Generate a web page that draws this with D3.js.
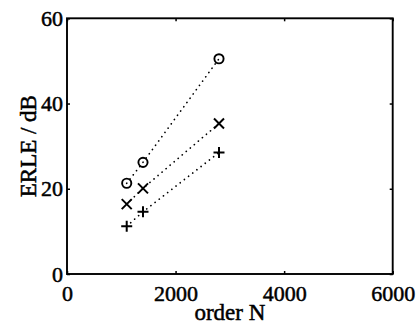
<!DOCTYPE html>
<html><head><meta charset="utf-8">
<script src="https://cdn.jsdelivr.net/npm/d3@7"></script>
<style>
html,body{margin:0;padding:0;background:#fff;}
text{font-family:"Liberation Serif","Times New Roman",serif;fill:#000;}
</style></head>
<body>
<svg id="chart" width="419" height="326"></svg>
<script>
const orderN = [1100, 1400, 2800];
const circleSeries = [21.3, 26.2, 50.5];
const crossSeries = [16.4, 20.1, 35.3];
const plusSeries = [11.2, 14.6, 28.5];
const xTicks = [0, 2000, 4000, 6000];
const yTicks = [0, 20, 40, 60];

const svg = d3.select("#chart");
const L = 67, R = 392.7, T = 18.3, B = 274;
const x = d3.scaleLinear().domain([0, 6000]).range([L, R]);
const y = d3.scaleLinear().domain([0, 60]).range([B, T]);

const series = [
  {name: "o", values: circleSeries},
  {name: "x", values: crossSeries},
  {name: "+", values: plusSeries}
];

const line = d3.line().x(d => x(d[0])).y(d => y(d[1]));
series.forEach(s => {
  const pts = orderN.map((n, i) => [n, s.values[i]]);
  svg.append("path").attr("d", line(pts))
    .attr("fill", "none").attr("stroke", "#000")
    .attr("stroke-width", 1.7).attr("stroke-linecap", "round")
    .attr("stroke-dasharray", "0.1 5.2");
});

series.forEach(s => {
  orderN.forEach((n, i) => {
    const cx = x(n), cy = y(s.values[i]);
    const g = svg.append("g").attr("transform", `translate(${cx},${cy})`);
    if (s.name === "o") {
      g.append("circle").attr("r", 4.6).attr("fill", "none").attr("stroke", "#000").attr("stroke-width", 1.9);
    } else if (s.name === "x") {
      g.append("path").attr("d", "M-5,-5L5,5M-5,5L5,-5").attr("stroke", "#000").attr("stroke-width", 2);
    } else {
      g.append("path").attr("d", "M-5.5,0L5.5,0M0,-5.5L0,5.5").attr("stroke", "#000").attr("stroke-width", 2);
    }
  });
});

svg.append("rect").attr("x", L).attr("y", T).attr("width", R - L).attr("height", B - T)
  .attr("fill", "none").attr("stroke", "#000").attr("stroke-width", 1.9);

const xAxis = d3.axisBottom(x).tickValues(xTicks).tickSize(-3).tickPadding(11).tickFormat(d3.format("d"));
const gx = svg.append("g").attr("transform", `translate(0,${B})`).call(xAxis);
const xTop = d3.axisTop(x).tickValues(xTicks).tickSize(-3).tickFormat("");
const gxt = svg.append("g").attr("transform", `translate(0,${T})`).call(xTop);
const yAxis = d3.axisLeft(y).tickValues(yTicks).tickSize(-3).tickPadding(4).tickFormat(d3.format("d"));
const gy = svg.append("g").attr("transform", `translate(${L},0)`).call(yAxis);
const yRight = d3.axisRight(y).tickValues(yTicks).tickSize(-3).tickFormat("");
const gyr = svg.append("g").attr("transform", `translate(${R},0)`).call(yRight);

[gx, gxt, gy, gyr].forEach(g => {
  g.select(".domain").remove();
  g.selectAll(".tick line").attr("stroke", "#000").attr("stroke-width", 1.5);
  g.selectAll("text").attr("font-size", 22).attr("font-family", "Liberation Serif, serif")
    .attr("fill", "#000").attr("stroke", "#000").attr("stroke-width", 0.5);
});

svg.append("text").attr("x", (L + R) / 2).attr("y", 320).attr("text-anchor", "middle")
  .attr("font-size", 23).attr("stroke", "#000").attr("stroke-width", 0.5).text("order N");
svg.append("text").attr("transform", `translate(36,${(T + B) / 2}) rotate(-90)`)
  .attr("text-anchor", "middle").attr("font-size", 23).attr("stroke", "#000").attr("stroke-width", 0.5)
  .text("ERLE / dB");
</script>
</body></html>
